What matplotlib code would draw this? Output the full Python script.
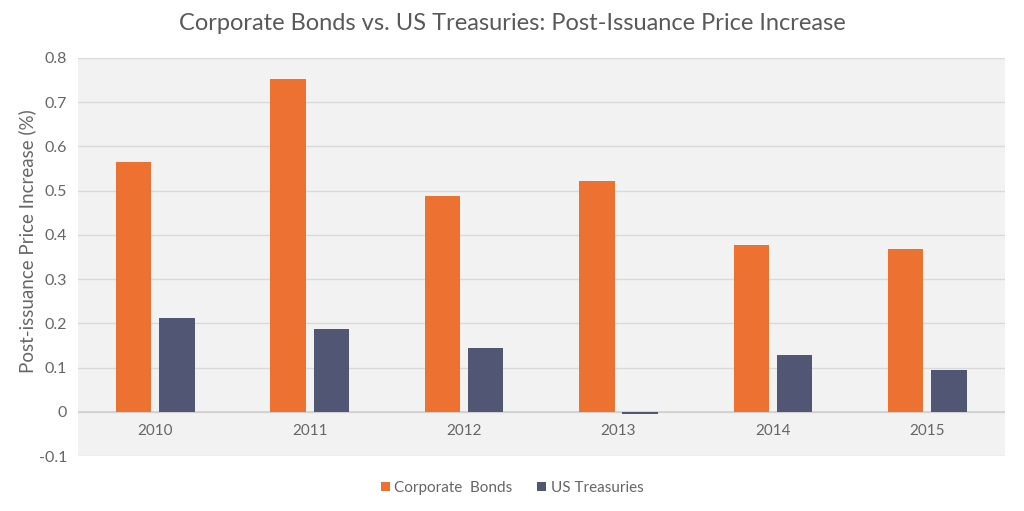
import matplotlib.pyplot as plt
import numpy as np

years = ['2010', '2011', '2012', '2013', '2014', '2015']
corporate_bonds = [0.565, 0.753, 0.488, 0.522, 0.377, 0.367]
us_treasuries = [0.212, 0.188, 0.144, -0.005, 0.129, 0.094]

plt.rcParams['font.family'] = ['Lato', 'DejaVu Sans']

fig = plt.figure(figsize=(10.24, 5.11), dpi=100)
ax = fig.add_axes([0.0762, 0.1076, 0.9048, 0.7789])
ax.set_facecolor('#f2f2f2')

x = np.arange(len(years))
w = 0.23
ax.bar(x - 0.14, corporate_bonds, w, color='#ed7130', label='Corporate  Bonds', zorder=3)
ax.bar(x + 0.14, us_treasuries, w, color='#525675', label='US Treasuries', zorder=3)

ax.set_xlim(-0.5, len(years) - 0.5)
ax.set_ylim(-0.1, 0.8)
ax.set_yticks(np.arange(-0.1, 0.81, 0.1))
ax.set_yticklabels(['-0.1', '0', '0.1', '0.2', '0.3', '0.4', '0.5', '0.6', '0.7', '0.8'])
ax.grid(axis='y', color='#d9d9d9', linewidth=1, zorder=0)
ax.axhline(0, color='#d0d0d0', linewidth=1.2, zorder=2)
ax.tick_params(axis='y', length=0, pad=8, labelsize=11.5, labelcolor='#666666')
ax.set_xticks([])
for i, yr in enumerate(years):
    ax.annotate(yr, (i, 0), xytext=(0, -9), textcoords='offset points',
                ha='center', va='top', fontsize=11, color='#666666')
for s in ax.spines.values():
    s.set_visible(False)

ax.set_ylabel('Post-issuance Price Increase (%)', fontsize=13.5, color='#666666')
ax.yaxis.set_label_coords(-0.045, 0.54)
fig.suptitle('Corporate Bonds vs. US Treasuries: Post-Issuance Price Increase',
             x=0.5, y=0.975, fontsize=17, color='#595959')

fig.legend(loc='center', bbox_to_anchor=(0.5, 0.045), ncol=2, frameon=False,
           fontsize=11, labelcolor='#666666', handlelength=0.6, handleheight=0.6,
           handletextpad=0.3, columnspacing=1.6)

fig.savefig('out.png', dpi=100, facecolor='white')
